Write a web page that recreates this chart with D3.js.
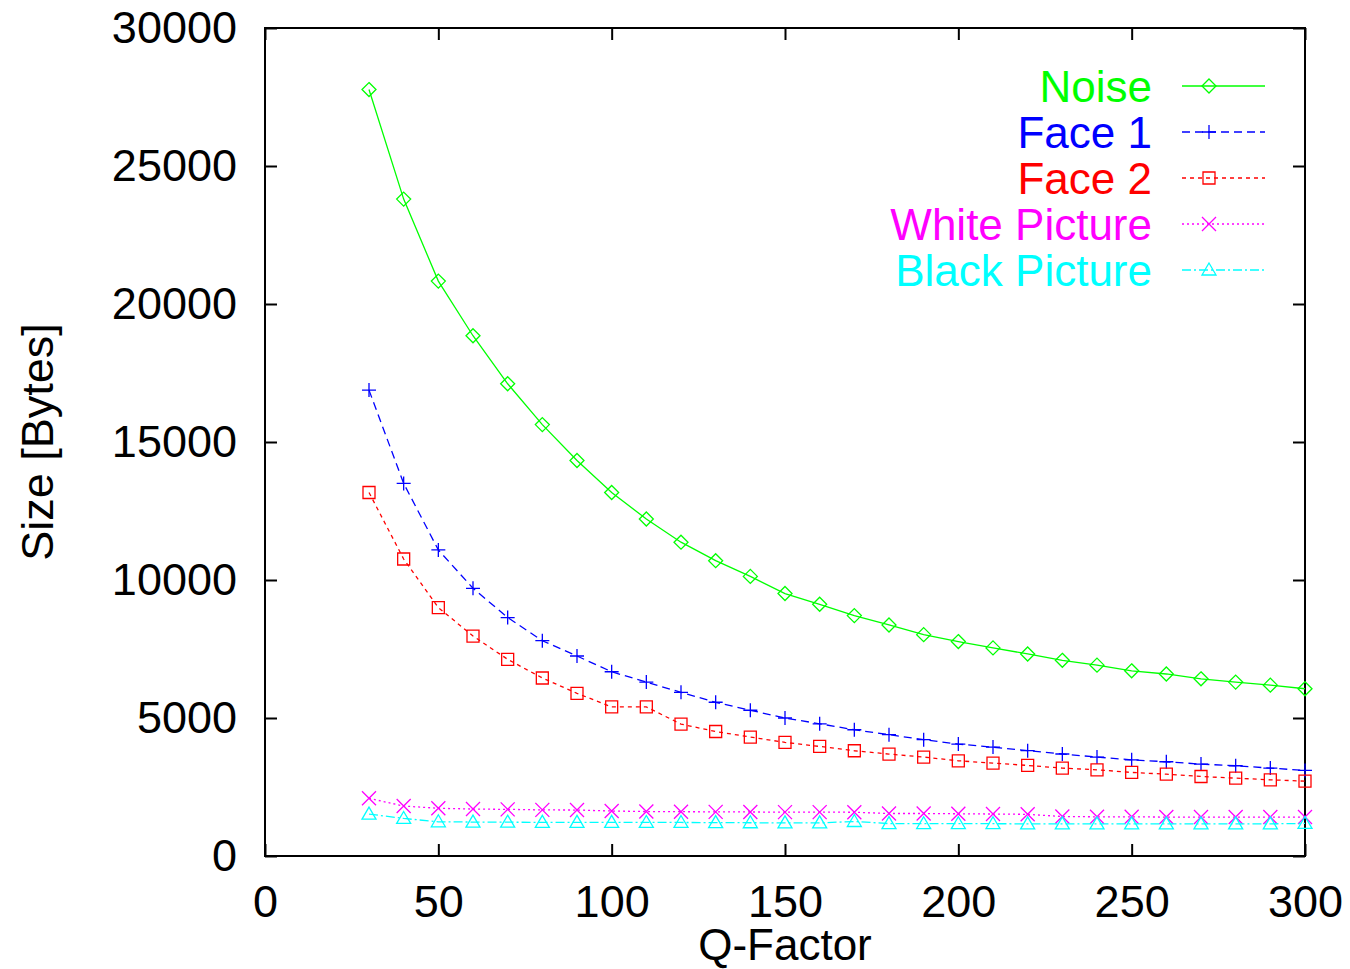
<!DOCTYPE html>
<html>
<head>
<meta charset="utf-8">
<script src="https://cdn.jsdelivr.net/npm/d3@7"></script>
<style>
  body { margin: 0; background: #fff; }
  svg text { font-family: "Liberation Sans", Arial, sans-serif; }
</style>
</head>
<body>
<div id="chart"></div>
<script>
// Data
var qFactor = [30, 40, 50, 60, 70, 80, 90, 100, 110, 120, 130, 140, 150, 160, 170, 180, 190, 200,
  210, 220, 230, 240, 250, 260, 270, 280, 290, 300];
var noise = [27770, 23800, 20830, 18850, 17110, 15630, 14330, 13170, 12210, 11370, 10700, 10130, 9510,
  9120, 8710, 8370, 8020, 7770, 7540, 7320, 7090, 6915, 6710, 6595, 6420, 6300, 6190, 6060];
var face1 = [16880, 13500, 11090, 9700, 8640, 7800, 7246, 6675, 6300, 5930, 5570, 5280, 5000,
  4790, 4575, 4395, 4215, 4055, 3945, 3815, 3695, 3585, 3485, 3415, 3330, 3270, 3185, 3100];
var face2 = [13170, 10760, 9000, 7970, 7125, 6450, 5895, 5400, 5400, 4780, 4510, 4310, 4116,
  3970, 3814, 3693, 3584, 3450, 3366, 3281, 3184, 3124, 3027, 2966, 2881, 2821, 2760, 2712];
var whitePic = [2090, 1810, 1730, 1700, 1690, 1670, 1665, 1630, 1610, 1605, 1600, 1595, 1590,
  1590, 1585, 1540, 1540, 1530, 1520, 1510, 1430, 1420, 1420, 1410, 1410, 1410, 1410, 1410];
var blackPic = [1520, 1360, 1240, 1230, 1225, 1220, 1220, 1220, 1215, 1215, 1210, 1205, 1200,
  1200, 1250, 1175, 1170, 1170, 1170, 1165, 1165, 1165, 1165, 1165, 1165, 1165, 1165, 1180];

var seriesNames = ["Noise", "Face 1", "Face 2", "White Picture", "Black Picture"];
var seriesValues = [noise, face1, face2, whitePic, blackPic];
var seriesColors = ["#00ff00", "#0000ff", "#ff0000", "#ff00ff", "#00ffff"];
var seriesDash = [null, "8,5", "4,4", "2,3", "9,3,2,3"];
var seriesMarker = ["diamond", "plus", "square", "cross", "triangle"];

var xTicks = [0, 50, 100, 150, 200, 250, 300];
var yTicks = [0, 5000, 10000, 15000, 20000, 25000, 30000];

var svgWidth = 1350, svgHeight = 969;
var margin = { top: 28, right: 45, bottom: 113, left: 265 };
var chartWidth = svgWidth - margin.left - margin.right;
var chartHeight = svgHeight - margin.top - margin.bottom;

var svg = d3.select("#chart").append("svg")
  .attr("width", svgWidth)
  .attr("height", svgHeight);

var chartGroup = svg.append("g")
  .attr("transform", `translate(${margin.left}, ${margin.top})`);

var x = d3.scaleLinear().domain([0, 300]).range([0, chartWidth]);
var y = d3.scaleLinear().domain([0, 30000]).range([chartHeight, 0]);

// inward ticks on all four sides
function styleAxis(g) {
  g.select(".domain").remove();
  g.selectAll(".tick line").attr("stroke", "#000").attr("stroke-width", 2);
  g.selectAll(".tick text").attr("fill", "#000").style("font-size", "45px");
}

chartGroup.append("g")
  .attr("transform", `translate(0, ${chartHeight})`)
  .call(d3.axisBottom(x).tickValues(xTicks).tickSize(-12).tickPadding(29).tickFormat(d3.format("d")))
  .call(styleAxis);
chartGroup.append("g")
  .call(d3.axisTop(x).tickValues(xTicks).tickSize(-12).tickFormat(""))
  .call(styleAxis);
chartGroup.append("g")
  .call(d3.axisLeft(y).tickValues(yTicks).tickSize(-12).tickPadding(28).tickFormat(d3.format("d")))
  .call(styleAxis);
chartGroup.append("g")
  .attr("transform", `translate(${chartWidth}, 0)`)
  .call(d3.axisRight(y).tickValues(yTicks).tickSize(-12).tickFormat(""))
  .call(styleAxis);

chartGroup.append("rect")
  .attr("width", chartWidth)
  .attr("height", chartHeight)
  .attr("fill", "none")
  .attr("stroke", "#000")
  .attr("stroke-width", 2);

// marker shapes
function markerPath(type) {
  var s = 7;
  if (type === "diamond") return `M0,${-s}L${s},0L0,${s}L${-s},0Z`;
  if (type === "plus") return `M${-s},0H${s}M0,${-s}V${s}`;
  if (type === "square") return `M${-6},${-6}H6V6H-6Z`;
  if (type === "cross") return `M${-s},${-s}L${s},${s}M${-s},${s}L${s},${-s}`;
  return `M0,${-7}L7,5H-7Z`;
}

var line = d3.line()
  .x(d => x(d.q))
  .y(d => y(d.v));

seriesValues.forEach(function(vals, i) {
  var pts = qFactor.map((q, j) => ({ q: q, v: vals[j] }));
  chartGroup.append("path")
    .datum(pts)
    .attr("d", line)
    .attr("fill", "none")
    .attr("stroke", seriesColors[i])
    .attr("stroke-width", 1.3)
    .attr("stroke-dasharray", seriesDash[i]);
  chartGroup.selectAll(null)
    .data(pts)
    .enter()
    .append("path")
    .attr("transform", d => `translate(${x(d.q)}, ${y(d.v)})`)
    .attr("d", markerPath(seriesMarker[i]))
    .attr("fill", "none")
    .attr("stroke", seriesColors[i])
    .attr("stroke-width", 1.3);
});

// legend
var legend = svg.append("g");
seriesNames.forEach(function(name, i) {
  var ly = 86 + i * 46;
  legend.append("text")
    .attr("x", 1152)
    .attr("y", ly + 16)
    .attr("text-anchor", "end")
    .attr("fill", seriesColors[i])
    .style("font-size", "44px")
    .text(name);
  legend.append("line")
    .attr("x1", 1182).attr("x2", 1265)
    .attr("y1", ly).attr("y2", ly)
    .attr("stroke", seriesColors[i])
    .attr("stroke-width", 1.3)
    .attr("stroke-dasharray", seriesDash[i]);
  legend.append("path")
    .attr("transform", `translate(1209, ${ly})`)
    .attr("d", markerPath(seriesMarker[i]))
    .attr("fill", "none")
    .attr("stroke", seriesColors[i])
    .attr("stroke-width", 1.3);
});

// axis labels
svg.append("text")
  .attr("x", margin.left + chartWidth / 2)
  .attr("y", 960)
  .attr("text-anchor", "middle")
  .style("font-size", "44px")
  .text("Q-Factor");

svg.append("text")
  .attr("transform", "translate(53, 442) rotate(-90)")
  .attr("text-anchor", "middle")
  .style("font-size", "45px")
  .text("Size [Bytes]");
</script>
</body>
</html>
